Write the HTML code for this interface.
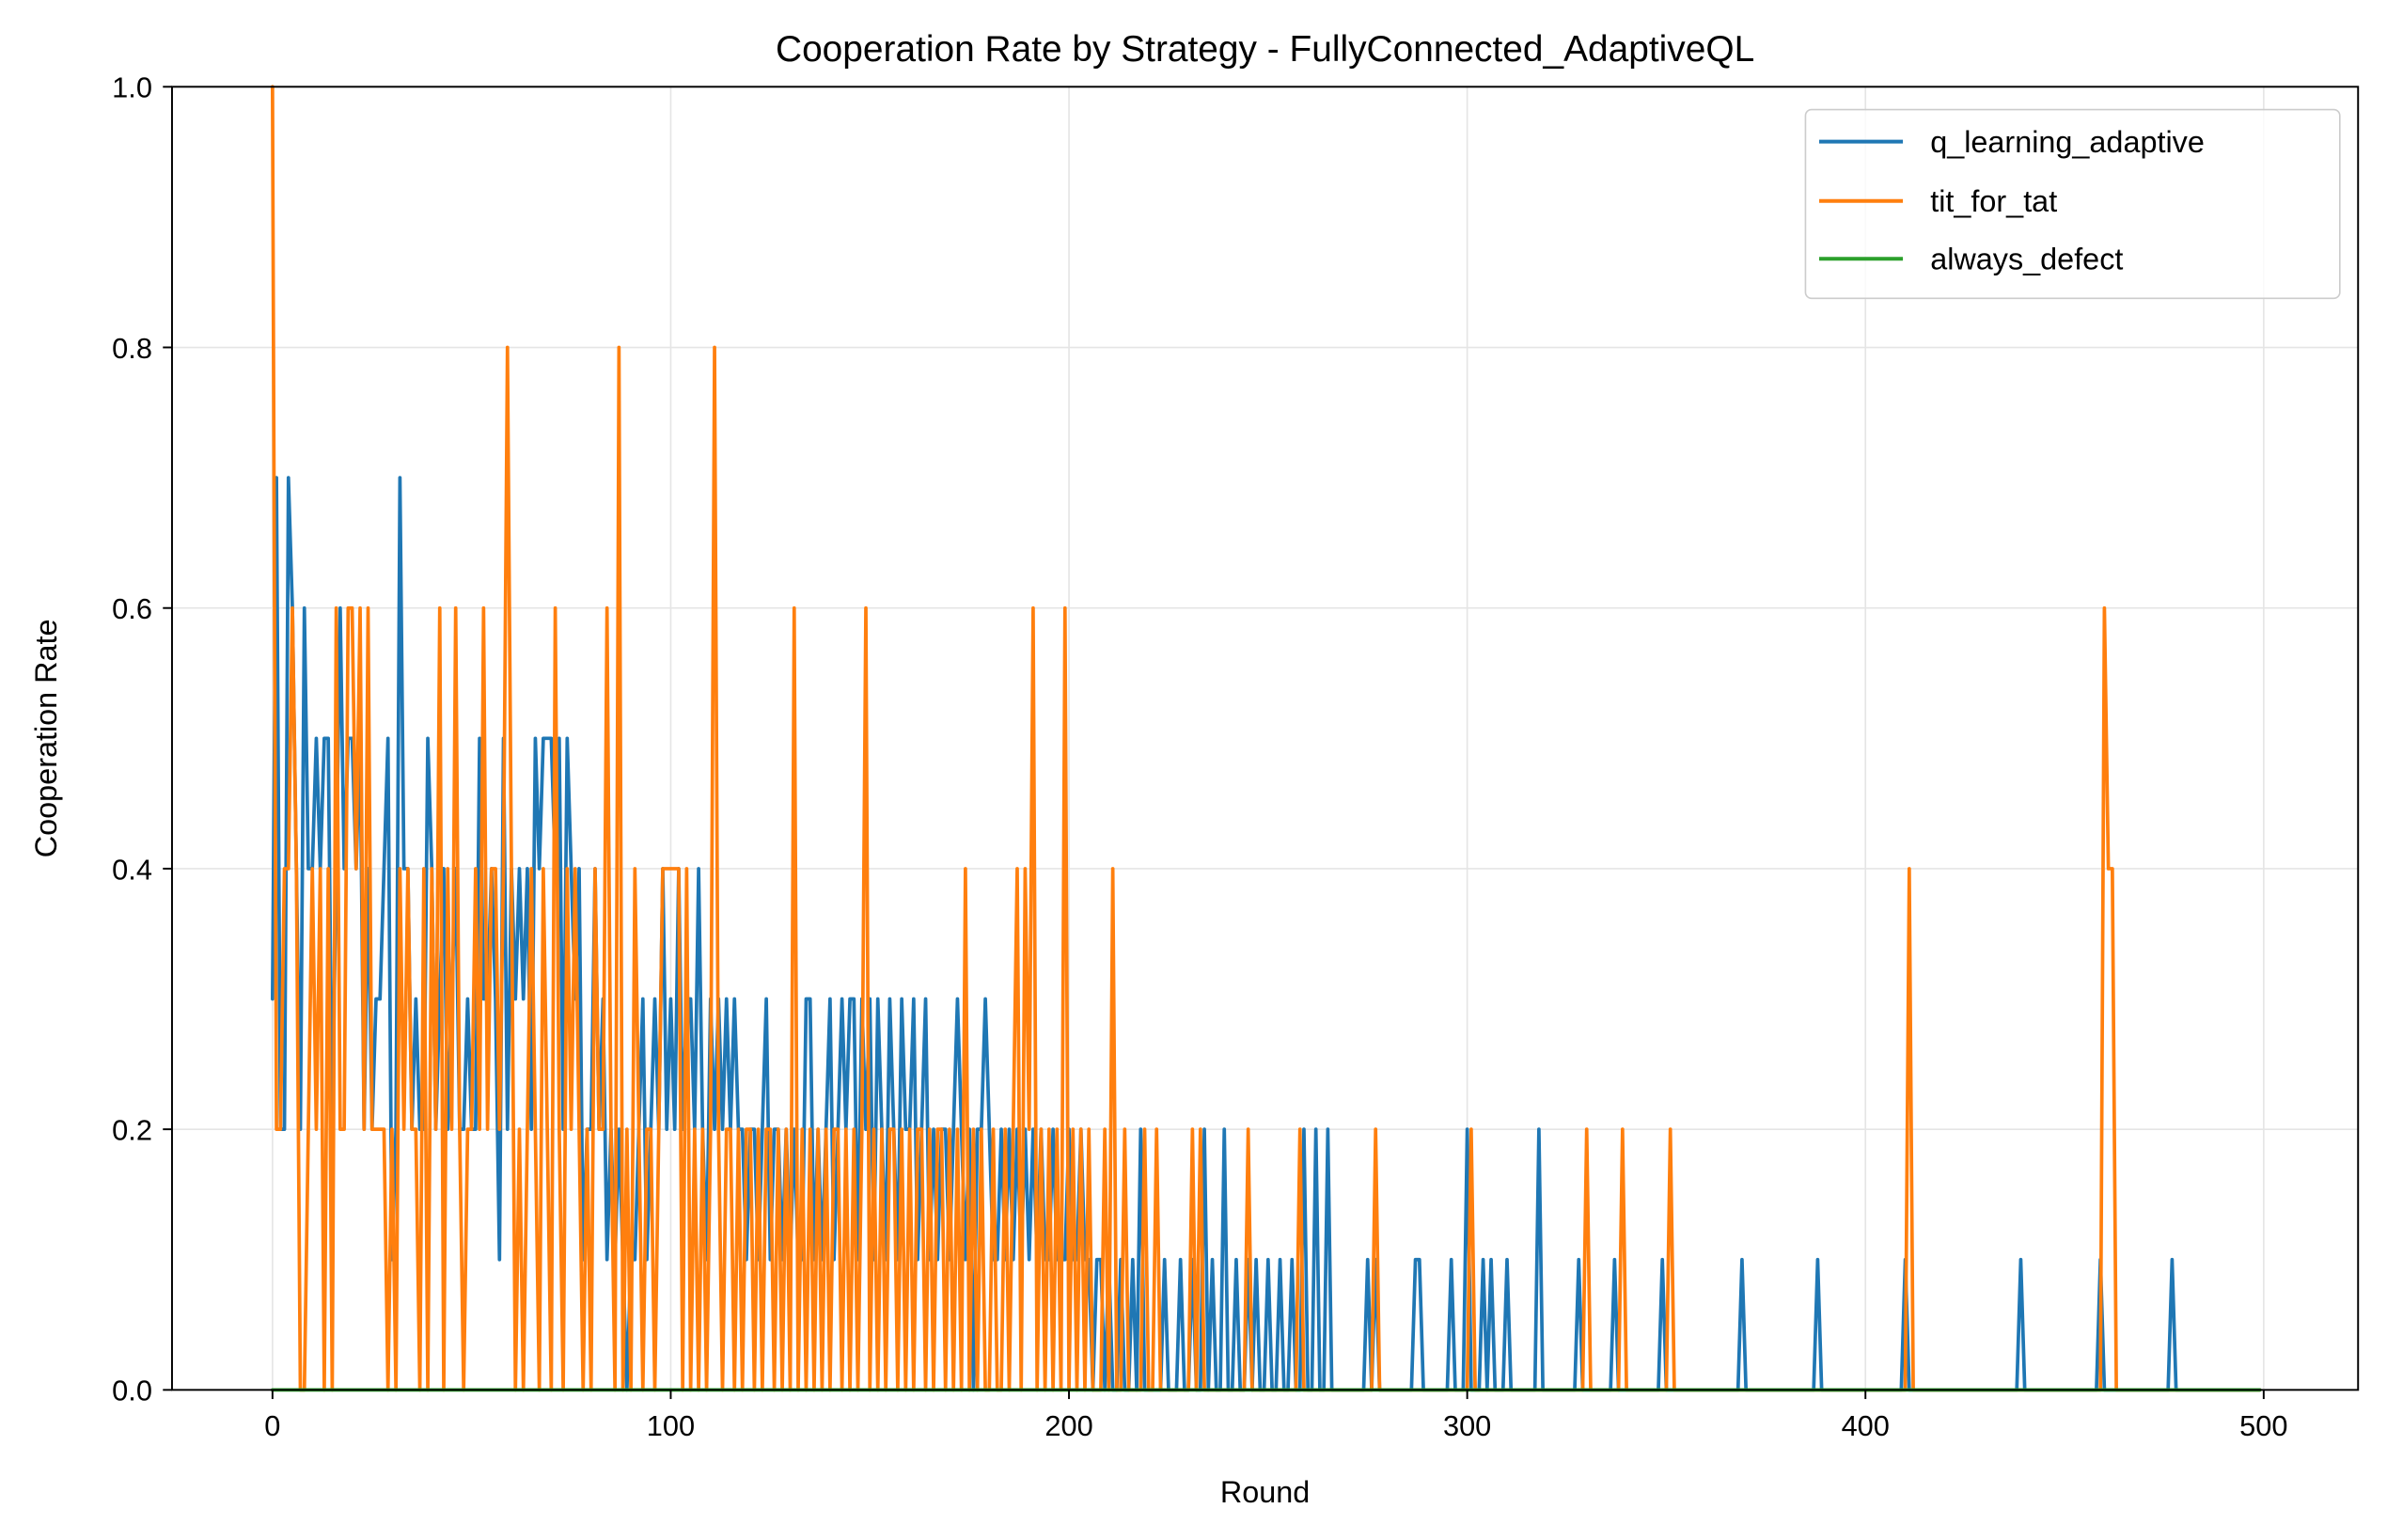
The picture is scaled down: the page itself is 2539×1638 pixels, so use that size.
<!DOCTYPE html>
<html><head><meta charset="utf-8"><style>
html,body{margin:0;padding:0;background:#fff;}
svg{display:block;font-family:"Liberation Sans","DejaVu Sans",sans-serif;}
</style></head><body>
<svg id="chart" width="2539" height="1638" viewBox="0 0 1568 1011.6" preserveAspectRatio="none" xmlns="http://www.w3.org/2000/svg">
<rect x="0" y="0" width="1568" height="1012" fill="#fff"/>
<g id="grid"></g>
<g id="series"></g>
<rect x="113" y="57" width="1436" height="856" fill="none" stroke="#000" stroke-width="1.2"/>
<g id="axes"></g>
<text x="831" y="40" font-size="24" text-anchor="middle">Cooperation Rate by Strategy - FullyConnected_AdaptiveQL</text>
<text x="831" y="987" font-size="20" text-anchor="middle">Round</text>
<text transform="translate(37,485) rotate(-90)" font-size="20" text-anchor="middle">Cooperation Rate</text>
<g>
<rect x="1186" y="72" width="351" height="124" rx="4" fill="#fff" fill-opacity="0.8" stroke="#ccc" stroke-width="1"/>
<line x1="1195" y1="93" x2="1250" y2="93" stroke="#1f77b4" stroke-width="2.5"/>
<text x="1268" y="100" font-size="20">q_learning_adaptive</text>
<line x1="1195" y1="132" x2="1250" y2="132" stroke="#ff7f0e" stroke-width="2.5"/>
<text x="1268" y="139" font-size="20">tit_for_tat</text>
<line x1="1195" y1="170" x2="1250" y2="170" stroke="#2ca02c" stroke-width="2.5"/>
<text x="1268" y="177" font-size="20">always_defect</text>
</g>
</svg>
<script>
const xTicks=[0,100,200,300,400,500];
const yTicks=[0,0.2,0.4,0.6,0.8,1.0];
const yTickLabels=["0.0","0.2","0.4","0.6","0.8","1.0"];
const numRounds=500;
const qEarly=[
0.3,0.7,0.2,0.2,0.7,0.6,0.4,0.2,0.6,0.4,0.4,0.5,0.4,0.5,0.5,0.2,0.4,0.6,0.4,0.5,
0.5,0.4,0.5,0.2,0.4,0.2,0.3,0.3,0.4,0.5,0.1,0.2,0.7,0.4,0.4,0.2,0.3,0.2,0.2,0.5,
0.4,0.2,0.3,0.4,0.2,0.3,0.4,0.2,0.2,0.3,0.2,0.2,0.5,0.3,0.3,0.4,0.3,0.1,0.5,0.2,
0.4,0.3,0.4,0.3,0.4,0.2,0.5,0.4,0.5,0.5,0.5,0.4,0.5,0.2,0.5,0.4,0.3,0.4,0.1,0.2,
0.2,0.4,0.2,0.3,0.1,0.2,0.1,0.2,0.1,0.0,0.1,0.1,0.2,0.3,0.1,0.2,0.3,0.2,0.4,0.2,
0.3,0.2,0.4,0.2,0.3,0.3,0.2,0.4,0.2,0.1,0.3,0.2,0.3,0.2,0.3,0.2,0.3,0.2,0.2,0.1,
0.2,0.2,0.1,0.2,0.3,0.1,0.2,0.2,0.1,0.2,0.1,0.2,0.1,0.1,0.3,0.3,0.1,0.2,0.1,0.2,
0.3,0.1,0.2,0.3,0.2,0.3,0.3,0.1,0.3,0.2,0.3,0.1,0.3,0.2,0.1,0.3,0.2,0.1,0.3,0.2,
0.2,0.3,0.1,0.2,0.3,0.1,0.2,0.1,0.2,0.2,0.1,0.2,0.3,0.2,0.1,0.2,0.0,0.2,0.2,0.3,
0.2,0.1,0.1,0.2,0.1,0.2,0.1,0.2,0.1,0.2,0.1,0.2,0.1,0.2,0.1,0.1,0.2,0.1,0.1,0.1,
0.2,0.1,0.1,0.2,0.1,0.1,0.0,0.1,0.1,0.0,0.1,0.0,0.0,0.1,0.0,0.0,0.1,0.0,0.2,0.0];
const qLateRounds=[224,228,231,234,236,239,242,245,247,250,253,256,259,262,265,275,277,287,288,296,300,304,306,310,318,328,337,349,369,388,410,439,459,477];
const qLateValues=[0.1,0.1,0.1,0.2,0.1,0.2,0.1,0.1,0.1,0.1,0.1,0.1,0.2,0.2,0.2,0.1,0.1,0.1,0.1,0.1,0.2,0.1,0.1,0.1,0.2,0.1,0.1,0.1,0.1,0.1,0.1,0.1,0.1,0.1];
const tftEarly=[
1.0,0.2,0.2,0.4,0.4,0.6,0.4,0.0,0.0,0.2,0.4,0.2,0.4,0.0,0.4,0.0,0.6,0.2,0.2,0.6,
0.6,0.4,0.6,0.2,0.6,0.2,0.2,0.2,0.2,0.0,0.2,0.0,0.4,0.2,0.4,0.2,0.2,0.0,0.4,0.0,
0.4,0.2,0.6,0.0,0.4,0.2,0.6,0.2,0.0,0.2,0.2,0.4,0.2,0.6,0.2,0.4,0.4,0.2,0.4,0.8,
0.4,0.0,0.2,0.0,0.2,0.4,0.2,0.0,0.4,0.2,0.0,0.6,0.2,0.0,0.4,0.2,0.4,0.2,0.0,0.2,
0.0,0.4,0.2,0.2,0.6,0.2,0.0,0.8,0.0,0.2,0.0,0.4,0.2,0.0,0.2,0.2,0.0,0.2,0.4,0.4,
0.4,0.4,0.4,0.0,0.4,0.0,0.2,0.0,0.2,0.0,0.2,0.8,0.2,0.0,0.2,0.2,0.0,0.2,0.0,0.2,
0.2,0.0,0.2,0.0,0.2,0.2,0.0,0.2,0.0,0.2,0.0,0.6,0.0,0.2,0.0,0.2,0.0,0.2,0.0,0.2,
0.0,0.2,0.2,0.0,0.2,0.0,0.2,0.0,0.2,0.6,0.0,0.2,0.0,0.2,0.0,0.2,0.2,0.0,0.2,0.0,
0.2,0.0,0.2,0.2,0.0,0.2,0.0,0.2,0.2,0.0,0.2,0.0,0.2,0.0,0.4,0.0,0.2,0.0,0.2,0.0,
0.0,0.2,0.0,0.0,0.2,0.0,0.2,0.4,0.0,0.4,0.2,0.6,0.0,0.2,0.0,0.2,0.0,0.2,0.0,0.6,
0.0,0.2,0.0,0.2,0.0,0.2,0.0,0.0,0.0,0.2,0.0,0.4,0.0,0.0,0.2,0.0,0.0,0.0,0.0,0.2];
const tftLateRounds=[222,231,233,245,258,277,301,330,339,351,411,460,461,462];
const tftLateValues=[0.2,0.2,0.2,0.2,0.2,0.2,0.2,0.2,0.2,0.2,0.4,0.6,0.4,0.4];
const defectRounds=[0,499];
const defectValues=[0,0];

const X0=179, X1=1487, Y0=913, Y1=57;
function xs(r){return X0+(X1-X0)*r/500;}
function ys(v){return Y0+(Y1-Y0)*v;}
const NS="http://www.w3.org/2000/svg";
function mk(tag,attrs,parent){const e=document.createElementNS(NS,tag);for(const k in attrs)e.setAttribute(k,attrs[k]);parent.appendChild(e);return e;}
function buildSeries(early,lr,lv){const a=[];for(let i=0;i<numRounds;i++)a.push(i<early.length?early[i]:0);lr.forEach((r,i)=>{a[r]=lv[i];});return a;}

const grid=document.getElementById('grid'),axes=document.getElementById('axes'),series=document.getElementById('series');
xTicks.forEach(t=>{
  const g=mk('line',{x1:xs(t),x2:xs(t),y1:Y1,y2:Y0,stroke:'#e5e5e5','stroke-width':1},grid);
  
  
  const tk=mk('line',{x1:xs(t),x2:xs(t),y1:Y0,y2:Y0+6,stroke:'#000','stroke-width':1.2},axes);
  
  
  const tx=mk('text',{x:xs(t),y:Y0+30,'font-size':19,'text-anchor':'middle'},axes);
  tx.textContent=String(t);
  
  
});
yTicks.forEach((t,i)=>{
  const g=mk('line',{x1:113,x2:1549,y1:ys(t),y2:ys(t),stroke:'#e5e5e5','stroke-width':1},grid);
  
  
  const tk=mk('line',{x1:107,x2:113,y1:ys(t),y2:ys(t),stroke:'#000','stroke-width':1.2},axes);
  
  
  const tx=mk('text',{x:100,y:ys(t)+7,'font-size':19,'text-anchor':'end'},axes);
  tx.textContent=yTickLabels[i];
  
  
});
function drawLine(vals,rounds,color,name){
  const pts=vals.map((v,i)=>xs(rounds?rounds[i]:i).toFixed(2)+','+ys(v).toFixed(2)).join(' ');
  const p=mk('polyline',{points:pts,fill:'none',stroke:color,'stroke-width':2.3,'stroke-linejoin':'round','stroke-linecap':'round'},series);
  
  
}
drawLine(buildSeries(qEarly,qLateRounds,qLateValues),null,'#1f77b4','q-learning-adaptive-line');
drawLine(buildSeries(tftEarly,tftLateRounds,tftLateValues),null,'#ff7f0e','tit-for-tat-line');
drawLine(defectValues,defectRounds,'#2ca02c','always-defect-line');
</script>
</body></html>
